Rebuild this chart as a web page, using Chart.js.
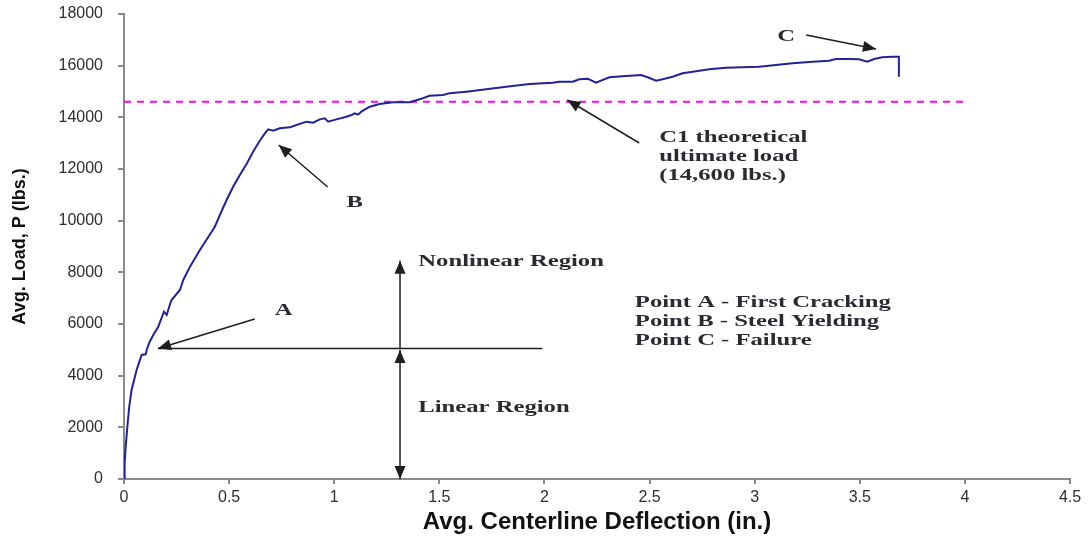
<!DOCTYPE html>
<html>
<head>
<meta charset="utf-8">
<script src="https://cdn.jsdelivr.net/npm/chart.js@4/dist/chart.umd.min.js"></script>
<style>
html,body{margin:0;padding:0;background:#ffffff;}
#c{display:block;}
</style>
</head>
<body>
<canvas id="c" width="1089" height="538"></canvas>
<script>
// ---- Data ----
const deflection = [0,0.003,0.008,0.016,0.025,0.036,0.048,0.06,0.073,0.084,0.103,0.108,0.12,0.139,0.163,0.184,0.19,0.203,0.215,0.226,
  0.266,0.282,0.314,0.361,0.417,0.432,0.456,0.488,0.519,0.551,0.583,0.614,0.646,0.67,0.686,0.709,0.741,0.789,0.82,0.868,0.9,0.931,0.955,0.971,
  1.01,1.058,1.082,1.097,1.113,1.129,1.169,1.216,1.279,1.359,1.406,1.454,1.517,1.549,1.628,1.723,1.818,1.929,2.039,2.071,2.134,2.166,2.206,
  2.245,2.309,2.388,2.459,2.491,2.531,2.562,2.61,2.657,2.705,2.784,2.863,2.942,3.021,3.101,3.18,3.275,3.354,3.386,3.449,3.496,3.536,3.568,
  3.607,3.655,3.686,3.686];
const load = [0,607,1250,2025,2800,3445,3832,4219,4542,4800,4827,4994,5277,5574,5896,6348,6477,6348,6670,6929,
  7316,7703,8220,8865,9574,9767,10220,10800,11315,11768,12194,12670,13096,13380,13535,13483,13574,13612,13703,13832,13793,13922,13961,13832,
  13922,14025,14090,14155,14103,14219,14413,14516,14581,14581,14697,14838,14864,14929,14993,15084,15187,15290,15341,15380,15380,15473,15496,
  15341,15550,15600,15639,15550,15418,15473,15573,15705,15767,15860,15922,15937,15960,16026,16092,16154,16193,16258,16258,16246,16154,16258,
  16323,16348,16348,15573];
const theoreticalLoad = 14600;
const theoreticalSpan = [0, 4];
const xTickValues = [0,0.5,1,1.5,2,2.5,3,3.5,4,4.5];
const yTickValues = [0,2000,4000,6000,8000,10000,12000,14000,16000,18000];
const xTitle = 'Avg. Centerline Deflection (in.)';
const yTitle = 'Avg. Load, P (lbs.)';

// ---- Annotations (in data units) ----
const annotationLines = [
  {from:[0.162,5050], to:[1.99,5050], heads:[]},
  {from:[0.622,6194], to:[0.162,5050], heads:['end']},
  {from:[0.969,11303], to:[0.736,12929], heads:['end']},
  {from:[3.245,17187], to:[3.577,16645], heads:['end']},
  {from:[2.451,13006], to:[2.109,14671], heads:['end']},
  {from:[1.313,5050], to:[1.313,8450], heads:['end']},
  {from:[1.313,0], to:[1.313,4990], heads:['start','end']}
];
const annotationTexts = [
  {text:'A', x:0.76, y:6500, align:'center'},
  {text:'B', x:1.097, y:10684, align:'center'},
  {text:'C', x:3.15, y:17110, align:'center'},
  {text:'C1 theoretical', x:2.546, y:13200, align:'left'},
  {text:'ultimate load', x:2.546, y:12465, align:'left'},
  {text:'(14,600 lbs.)', x:2.546, y:11729, align:'left'},
  {text:'Nonlinear Region', x:1.40, y:8400, align:'left'},
  {text:'Linear Region', x:1.40, y:2748, align:'left'},
  {text:'Point A - First Cracking', x:2.43, y:6813, align:'left'},
  {text:'Point B - Steel Yielding', x:2.43, y:6077, align:'left'},
  {text:'Point C - Failure', x:2.43, y:5342, align:'left'}
];

const annotationPlugin = {
  id: 'annotations',
  afterDatasetsDraw(chart) {
    const ctx = chart.ctx;
    const xs = chart.scales.x, ys = chart.scales.y;
    const px = v => xs.getPixelForValue(v), py = v => ys.getPixelForValue(v);
    ctx.save();
    ctx.strokeStyle = '#1e1e1e';
    ctx.fillStyle = '#1e1e1e';
    ctx.lineWidth = 1.5;
    const head = (tx, ty, fx, fy) => {
      const a = Math.atan2(ty - fy, tx - fx);
      const L = 13, W = 5.5;
      ctx.beginPath();
      ctx.moveTo(tx, ty);
      ctx.lineTo(tx - L*Math.cos(a) + W*Math.sin(a), ty - L*Math.sin(a) - W*Math.cos(a));
      ctx.lineTo(tx - L*Math.cos(a) - W*Math.sin(a), ty - L*Math.sin(a) + W*Math.cos(a));
      ctx.closePath();
      ctx.fill();
    };
    annotationLines.forEach(l => {
      const x1 = px(l.from[0]), y1 = py(l.from[1]), x2 = px(l.to[0]), y2 = py(l.to[1]);
      ctx.beginPath(); ctx.moveTo(x1, y1); ctx.lineTo(x2, y2); ctx.stroke();
      if (l.heads.includes('end')) head(x2, y2, x1, y1);
      if (l.heads.includes('start')) head(x1, y1, x2, y2);
    });
    ctx.fillStyle = '#2b2a30';
    ctx.font = 'bold 17px "Liberation Serif", "Times New Roman", serif';
    ctx.textBaseline = 'middle';
    annotationTexts.forEach(t => {
      ctx.save();
      ctx.translate(px(t.x), py(t.y));
      ctx.scale(1.45, 1);
      ctx.textAlign = t.align;
      ctx.fillText(t.text, 0, 0);
      ctx.restore();
    });
    ctx.restore();
  }
};

Chart.defaults.font.family = '"Liberation Sans", Arial, sans-serif';

new Chart(document.getElementById('c'), {
  type: 'scatter',
  data: {
    datasets: [
      {
        label: 'Load',
        data: deflection.map((x, i) => ({x: x, y: load[i]})),
        showLine: true,
        borderColor: '#22229a',
        borderWidth: 2,
        pointRadius: 0,
        tension: 0,
        fill: false
      },
      {
        label: 'C1 theoretical ultimate load',
        data: theoreticalSpan.map(x => ({x: x, y: theoreticalLoad})),
        showLine: true,
        borderColor: '#ff00ff',
        borderWidth: 2,
        borderDash: [7, 6],
        pointRadius: 0,
        fill: false
      }
    ]
  },
  options: {
    responsive: false,
    devicePixelRatio: 1,
    animation: false,
    layout: {padding: {top: 14, right: 19, left: 0, bottom: 0}},
    plugins: {legend: {display: false}, tooltip: {enabled: false}},
    scales: {
      x: {
        type: 'linear',
        min: 0, max: 4.5,
        afterBuildTicks: s => { s.ticks = xTickValues.map(v => ({value: v})); },
        afterFit: s => { s.height = 59; },
        grid: {drawOnChartArea: false, drawTicks: true, tickLength: 5, color: '#8a8a8a', lineWidth: 2},
        border: {color: '#8a8a8a', width: 2},
        ticks: {color: '#2e2e2e', font: {size: 16}, padding: 4, maxRotation: 0, callback: v => String(v)},
        title: {display: true, text: xTitle, color: '#111', font: {size: 24, weight: 'bold'}, padding: {top: 0, bottom: 1}}
      },
      y: {
        type: 'linear',
        min: 0, max: 18000,
        afterBuildTicks: s => { s.ticks = yTickValues.map(v => ({value: v})); },
        afterFit: s => { s.width = 124; s.paddingTop = 0; s.paddingBottom = 0; },
        grid: {drawOnChartArea: false, drawTicks: true, tickLength: 6, color: '#8a8a8a', lineWidth: 2},
        border: {color: '#8a8a8a', width: 2},
        ticks: {color: '#2e2e2e', font: {size: 16}, padding: 15, callback: v => String(v)},
        title: {display: true, text: yTitle, color: '#111', font: {size: 18, weight: 'bold'}, padding: {top: 9, bottom: 0}}
      }
    }
  },
  plugins: [annotationPlugin]
});
</script>
</body>
</html>
